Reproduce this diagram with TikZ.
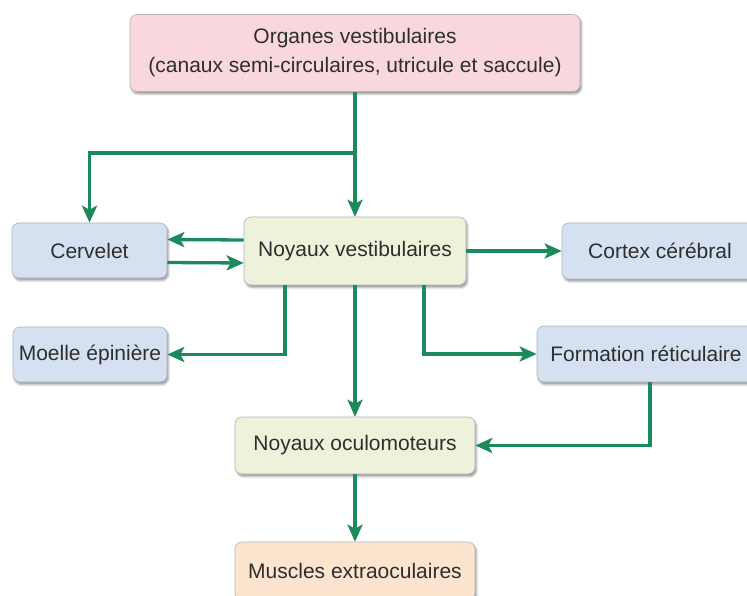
\documentclass[tikz,border=0pt]{standalone}
\usepackage{fontspec}
\setmainfont{Liberation Sans}
\usetikzlibrary{arrows.meta,shadows.blur}
\definecolor{vgreen}{HTML}{1C8A5C}
\definecolor{boxline}{HTML}{AEB4BC}
\definecolor{txtgray}{HTML}{2E2E2E}
\definecolor{pinkbox}{HTML}{F8D8DC}
\definecolor{bluebox}{HTML}{D5E1F0}
\definecolor{limebox}{HTML}{EFF2DA}
\definecolor{peachbox}{HTML}{FCE4CF}
\begin{document}
\begin{tikzpicture}[
  x=1pt,y=-1pt,
  font=\fontsize{21}{29}\selectfont,
  >={Stealth[length=17pt,width=15pt,inset=4pt]},
  box/.style={draw=boxline,line width=0.6pt,rounded corners=7pt,align=center,
    text=txtgray,inner sep=0pt,
    blur shadow={shadow xshift=1.5pt,shadow yshift=-2.5pt,shadow blur radius=2pt,shadow opacity=40}},
  link/.style={vgreen,line width=3.3pt,->}
]
\useasboundingbox (0,0) rectangle (747,596);

% boîtes
\node[box,fill=pinkbox,minimum width=450pt,minimum height=77pt] (org) at (355,53)
  {Organes vestibulaires\\(canaux semi-circulaires, utricule et saccule)};
\node[box,fill=limebox,minimum width=222pt,minimum height=68pt] (nv) at (355,251)
  {Noyaux vestibulaires};
\node[box,fill=bluebox,minimum width=155pt,minimum height=55pt] (cer) at (89.5,250.5)
  {Cervelet};
\node[box,fill=bluebox,minimum width=196pt,minimum height=56pt] (cor) at (660,251)
  {Cortex cérébral};
\node[box,fill=bluebox,minimum width=154pt,minimum height=55pt] (moe) at (90,354.5)
  {Moelle épinière};
\node[box,fill=bluebox,minimum width=218pt,minimum height=56pt] (form) at (646,354)
  {Formation réticulaire};
\node[box,fill=limebox,minimum width=240pt,minimum height=57pt] (noc) at (355,445.5)
  {Noyaux oculomoteurs};
\node[box,fill=peachbox,minimum width=240pt,minimum height=58pt] (mus) at (355,571)
  {Muscles extraoculaires};

% liaisons
\coordinate (split) at (355,153);
\draw[link] (org.south) -- (nv.north);
\draw[link] (split) -| (cer.north);
\draw[link] ([yshift=11pt]nv.west) -- ([yshift=11pt]cer.east);
\draw[link] ([yshift=-12pt]cer.east) -- ([yshift=-12pt]nv.west);
\draw[link] (nv.east) -- (cor.west);
\draw[link] ([xshift=-70pt]nv.south) |- (moe.east);
\draw[link] ([xshift=69pt]nv.south) |- (form.west);
\draw[link] (nv.south) -- (noc.north);
\draw[link] ([xshift=4pt]form.south) |- (noc.east);
\draw[link] (noc.south) -- (mus.north);
\end{tikzpicture}
\end{document}
